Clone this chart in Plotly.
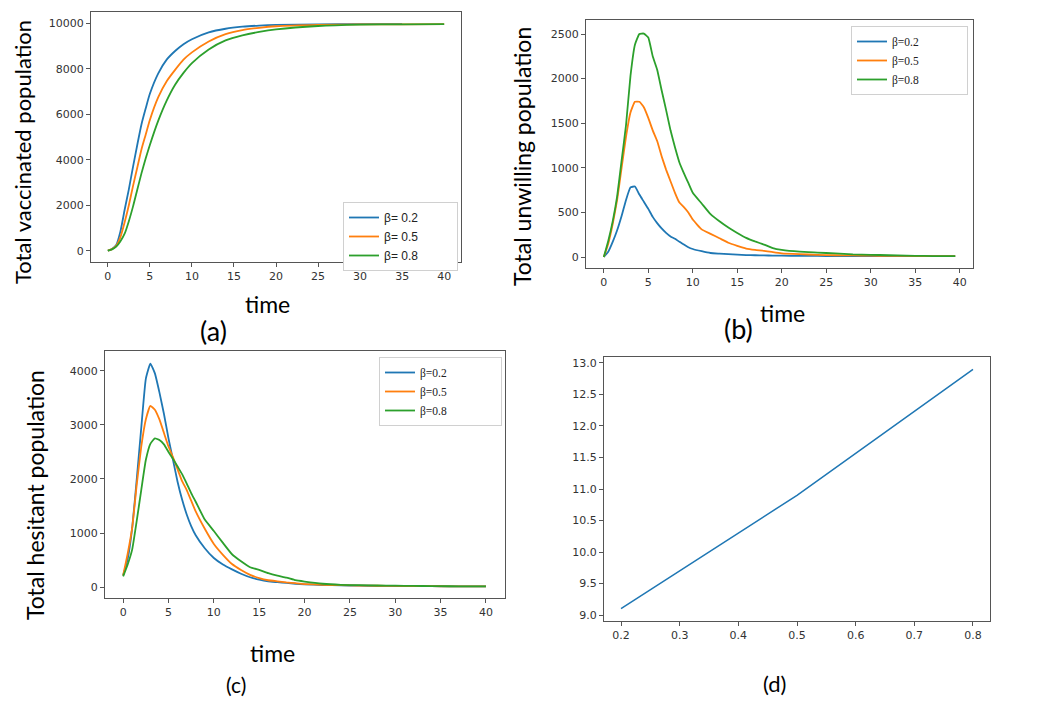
import plotly.graph_objects as go

# colori matplotlib
BLUE, ORANGE, GREEN = "#1f77b4", "#ff7f0e", "#2ca02c"

# (a) popolazione vaccinata
t_a = [0, 0.5, 1, 1.5, 2, 2.5, 3, 3.5, 4, 4.5, 5, 6, 7, 8, 9, 10, 12, 14, 16, 18, 20, 25, 30, 35, 40]
vacc_02 = [0, 80, 250, 850, 1800, 2700, 3700, 4650, 5550, 6250, 6900, 7800, 8400, 8780, 9080, 9300,
           9600, 9760, 9850, 9900, 9930, 9955, 9962, 9965]
vacc_05 = [0, 70, 220, 600, 1250, 2000, 2850, 3650, 4450, 5100, 5750, 6750, 7450, 7950, 8400, 8720,
           9200, 9520, 9700, 9800, 9870, 9930, 9950, 9955, 9960]
vacc_08 = [0, 60, 180, 420, 750, 1300, 1950, 2680, 3400, 4050, 4650, 5720, 6600, 7300, 7820, 8250,
           8850, 9250, 9470, 9620, 9730, 9880, 9940, 9955, 9960]

# (b) popolazione non disposta
t_b = [0, 0.5, 1, 1.5, 2, 2.5, 3, 3.5, 4, 4.5, 5, 5.5, 6, 6.5, 7, 7.5, 8, 8.5, 9, 9.5, 10,
       11, 12, 13, 14, 15, 16, 17, 18, 19, 20, 22, 24, 26, 28, 30, 32, 34, 36, 38, 39.5]
unw_02 = [0, 60, 170, 300, 460, 640, 780, 790, 700, 620, 540, 450, 380, 320, 270, 230, 205, 170, 140, 110, 90,
          65, 45, 38, 32, 27, 22, 20, 18, 16, 15, 13, 12, 11, 11, 10, 10, 9, 9, 9, 9]
unw_05 = [0, 150, 370, 640, 1000, 1350, 1620, 1740, 1740, 1680, 1560, 1420, 1300, 1130, 980, 850, 720, 610,
          560, 500, 420, 310, 260, 210, 160, 125, 95, 80, 70, 55, 42, 32, 25, 20, 18, 15, 13, 12, 11, 10, 10]
unw_08 = [0, 180, 400, 680, 1080, 1480, 2030, 2380, 2500, 2505, 2460, 2250, 2100, 1870, 1650, 1420, 1230,
          1060, 940, 830, 720, 600, 480, 400, 330, 270, 215, 175, 140, 100, 80, 60, 50, 40, 30, 25, 20, 15,
          12, 10, 10]

# (c) popolazione esitante
t_c = [0, 0.5, 1, 1.5, 2, 2.5, 3, 3.5, 4, 4.5, 5, 5.5, 6, 6.5, 7, 7.5, 8, 9, 10, 11, 12, 13, 14, 15,
       16, 17, 18, 19, 20, 22, 24, 26, 28, 30, 32, 34, 36, 38, 40]
hes_02 = [220, 520, 1100, 2000, 2950, 3850, 4130, 3950, 3600, 3200, 2750, 2350, 1950, 1620, 1350, 1130, 960,
          720, 540, 420, 330, 250, 185, 140, 110, 95, 80, 65, 55, 42, 35, 30, 27, 24, 22, 20, 18, 16, 15]
hes_05 = [220, 620, 1100, 1900, 2600, 3100, 3350, 3280, 3100, 2850, 2600, 2400, 2180, 1960, 1800, 1600, 1400,
          1080, 800, 600, 430, 320, 230, 170, 130, 110, 90, 75, 60, 45, 38, 32, 28, 25, 22, 20, 18, 16, 15]
hes_08 = [200, 420, 700, 1230, 1800, 2350, 2650, 2750, 2720, 2640, 2500, 2370, 2230, 2090, 1920, 1740, 1580,
          1250, 1040, 820, 610, 480, 370, 320, 260, 215, 180, 130, 105, 65, 45, 38, 33, 30, 25, 22, 19, 16, 15]

# (d)
beta_d = [0.2, 0.5, 0.8]
val_d = [9.1, 10.9, 12.9]

W, H = 1041, 717
OFF = 8  # margine del body html
PAD = "\u00a0"  # spazio per allargare le legende


def fx(p):
    return (p - OFF) / (W - OFF)


def fy(p):
    return 1 - (p - OFF) / (H - OFF)


fig = go.Figure()

# (a)
for y, name, col in [(vacc_02, "β= 0.2", BLUE), (vacc_05, "β= 0.5", ORANGE), (vacc_08, "β= 0.8", GREEN)]:
    fig.add_trace(go.Scatter(x=t_a[:len(y)], y=y, mode="lines", name=name + PAD * 10,
                             line=dict(color=col, width=1.8, shape="spline", smoothing=0.6),
                             xaxis="x", yaxis="y", legend="legend"))
# (b)
for y, name, col in [(unw_02, "β=0.2", BLUE), (unw_05, "β=0.5", ORANGE), (unw_08, "β=0.8", GREEN)]:
    fig.add_trace(go.Scatter(x=t_b, y=y, mode="lines", name=name + PAD * 15,
                             line=dict(color=col, width=1.8, shape="spline", smoothing=0.4),
                             xaxis="x2", yaxis="y2", legend="legend2"))
# (c)
for y, name, col in [(hes_02, "β=0.2", BLUE), (hes_05, "β=0.5", ORANGE), (hes_08, "β=0.8", GREEN)]:
    fig.add_trace(go.Scatter(x=t_c, y=y, mode="lines", name=name + PAD * 17,
                             line=dict(color=col, width=1.8, shape="spline", smoothing=0.4),
                             xaxis="x3", yaxis="y3", legend="legend3"))
# (d)
fig.add_trace(go.Scatter(x=beta_d, y=val_d, mode="lines", line=dict(color=BLUE, width=1.5),
                         xaxis="x4", yaxis="y4", showlegend=False))

tickfont = dict(family="DejaVu Sans", size=11, color="#333333")
ax_common = dict(showline=True, mirror=True, linecolor="#555555", linewidth=1, showgrid=False,
                 zeroline=False, ticks="outside", ticklen=4, tickcolor="#555555", tickfont=tickfont)


def xa(dom, rng, anchor, **kw):
    d = dict(ax_common, domain=[fx(dom[0]), fx(dom[1])], range=rng, anchor=anchor)
    d.update(kw)
    return d


def ya(dom, rng, anchor, **kw):
    d = dict(ax_common, domain=[fy(dom[1]), fy(dom[0])], range=rng, anchor=anchor)
    d.update(kw)
    return d


leg = dict(xanchor="left", yanchor="top", bgcolor="white", bordercolor="#d0d0d0", borderwidth=1)

fig.update_layout(
    width=W - OFF, height=H - OFF, autosize=False,
    margin=dict(l=0, r=0, t=0, b=0),
    paper_bgcolor="white", plot_bgcolor="white",
    xaxis=xa((91, 461), [-2, 42], "y", tickvals=list(range(0, 41, 5))),
    yaxis=ya((12, 262), [-496, 10496], "x", tickvals=list(range(0, 10001, 2000)), tickformat="d"),
    xaxis2=xa((586, 973), [-2, 41.5], "y2", tickvals=list(range(0, 41, 5))),
    yaxis2=ya((20, 268), [-123, 2657], "x2", tickvals=list(range(0, 2501, 500))),
    xaxis3=xa((105, 505), [-2, 42.1], "y3", tickvals=list(range(0, 41, 5))),
    yaxis3=ya((351, 598), [-198, 4364], "x3", tickvals=list(range(0, 4001, 1000))),
    xaxis4=xa((604, 990), [0.171, 0.829], "y4", tickvals=[0.2, 0.3, 0.4, 0.5, 0.6, 0.7, 0.8], tickformat=".1f"),
    yaxis4=ya((357, 621), [8.905, 13.095], "x4", tickvals=[9.0 + 0.5 * i for i in range(9)], tickformat=".1f"),
    legend=dict(leg, x=fx(343), y=fy(202), font=dict(family="Liberation Sans", size=12, color="#222")),
    legend2=dict(leg, x=fx(851), y=fy(26), font=dict(family="Liberation Serif", size=11.5, color="#222")),
    legend3=dict(leg, x=fx(379), y=fy(357), font=dict(family="Liberation Serif", size=11.5, color="#222")),
    showlegend=True,
)

labfont = "Lato"
labels = [
    ("Total vaccinated population", 22, 152, 22, -90),
    ("Total unwilling population", 522, 157, 23, -90),
    ("Total hesitant population", 35, 495, 23, -90),
    ("time", 267, 304, 23, 0),
    ("time", 782, 313, 23, 0),
    ("time", 272, 653, 23, 0),
    ("(a)", 213, 330, 27, 0),
    ("(b)", 738, 328, 27, 0),
    ("(c)", 236, 684, 21, 0),
    ("(d)", 774, 683, 22, 0),
]
for txt, x, y, size, ang in labels:
    fig.add_annotation(text=txt, x=fx(x), y=fy(y), xref="paper", yref="paper", showarrow=False,
                       xanchor="center", yanchor="middle", textangle=ang,
                       font=dict(family=labfont, size=size, color="black"))

fig.write_html("out.html")
